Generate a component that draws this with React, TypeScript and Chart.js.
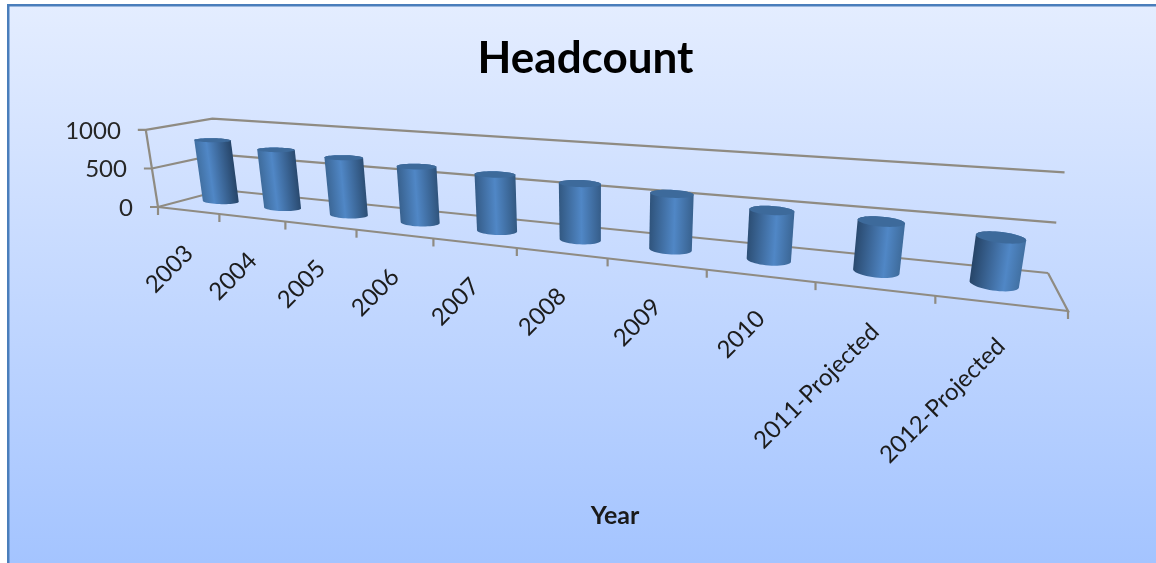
import React, { useEffect, useRef } from "react";
import { Chart, registerables } from "chart.js";

Chart.register(...registerables);

const categories = ["2003", "2004", "2005", "2006", "2007", "2008", "2009", "2010", "2011-Projected", "2012-Projected"];
const headcount = [810, 745, 710, 670, 650, 625, 595, 510, 495, 445];

type P = [number, number];
// floor corners of the 3-D box: front-left, front-right, back-right, back-left
const FLOOR: P[] = [[158, 207], [1068, 311], [1048, 273], [222, 190]];
const VANISH: P = [600, 3000]; // where the verticals meet, far below the chart
const WALL_HEIGHT = 78;
const FONT = "Lato, Carlito, 'Open Sans', sans-serif";
const GRID = "#8f8b82";

function homography(q: P[]) {
  const [[x0, y0], [x1, y1], [x2, y2], [x3, y3]] = q;
  const dx1 = x1 - x2, dx2 = x3 - x2, sx = x0 - x1 + x2 - x3;
  const dy1 = y1 - y2, dy2 = y3 - y2, sy = y0 - y1 + y2 - y3;
  const den = dx1 * dy2 - dx2 * dy1;
  const g = (sx * dy2 - dx2 * sy) / den;
  const h = (dx1 * sy - sx * dy1) / den;
  const a = x1 - x0 + g * x1, b = x3 - x0 + h * x3;
  const d = y1 - y0 + g * y1, e = y3 - y0 + h * y3;
  return (u: number, w: number): [number, number, number] => {
    const k = g * u + h * w + 1;
    return [(a * u + b * w + x0) / k, (d * u + e * w + y0) / k, k];
  };
}
const floorAt = homography(FLOOR);
// u along the categories, d depth (0 front, 1 back), v height 0..1
function project(u: number, d: number, v: number): P {
  const [x, y, k] = floorAt(u, d);
  const dx = x - VANISH[0], dy = y - VANISH[1], len = Math.hypot(dx, dy);
  const h = WALL_HEIGHT * Math.pow(k, -0.91) * v;
  return [x + (dx / len) * h, y + (dy / len) * h];
}

function hull(pts: P[]): P[] {
  const s = [...pts].sort((a, b) => a[0] - b[0] || a[1] - b[1]);
  const cross = (o: P, a: P, b: P) => (a[0] - o[0]) * (b[1] - o[1]) - (a[1] - o[1]) * (b[0] - o[0]);
  const lo: P[] = [], up: P[] = [];
  for (const p of s) {
    while (lo.length > 1 && cross(lo[lo.length - 2], lo[lo.length - 1], p) <= 0) lo.pop();
    lo.push(p);
  }
  for (const p of s.reverse()) {
    while (up.length > 1 && cross(up[up.length - 2], up[up.length - 1], p) <= 0) up.pop();
    up.push(p);
  }
  return lo.slice(0, -1).concat(up.slice(0, -1));
}
function poly(ctx: CanvasRenderingContext2D, pts: P[]) {
  ctx.beginPath();
  pts.forEach((p, i) => (i ? ctx.lineTo(p[0], p[1]) : ctx.moveTo(p[0], p[1])));
  ctx.closePath();
}
function line(ctx: CanvasRenderingContext2D, pts: P[]) {
  ctx.beginPath();
  pts.forEach((p, i) => (i ? ctx.lineTo(p[0], p[1]) : ctx.moveTo(p[0], p[1])));
  ctx.stroke();
}
function mix(a: number[], b: number[], t: number) {
  const c = a.map((v, i) => Math.round(v + (b[i] - v) * t));
  return `rgb(${c[0]},${c[1]},${c[2]})`;
}

const backdrop = {
  id: "backdrop",
  beforeDraw(chart: any) {
    const { ctx, width, height } = chart;
    const g = ctx.createLinearGradient(0, 4, 0, height);
    g.addColorStop(0, "#e4edff");
    g.addColorStop(1, "#a4c4ff");
    ctx.save();
    ctx.fillStyle = "#4a7ebb";
    ctx.fillRect(7, 4, width - 7, height - 4);
    ctx.fillStyle = g;
    ctx.fillRect(9.5, 6.5, width - 9.5, height - 6.5);
    ctx.restore();
  },
};

const box3d = {
  id: "box3d",
  afterDatasetsDraw(chart: any) {
    const { ctx } = chart;
    const xs = chart.scales.x, ys = chart.scales.y;
    const frac = (v: number) => (ys.bottom - ys.getPixelForValue(v)) / (ys.bottom - ys.top);
    ctx.save();
    ctx.strokeStyle = GRID;
    ctx.lineWidth = 2.2;
    ctx.lineJoin = "miter";

    // walls, gridlines and value ticks
    ctx.fillStyle = "#262626";
    ctx.font = `24px ${FONT}`;
    ctx.textBaseline = "middle";
    ctx.textAlign = "right";
    for (const t of ys.ticks) {
      const v = frac(t.value);
      const a = project(0, 0, v), b = project(0, 1, v), c = project(1, 1, v);
      line(ctx, [[a[0] - 8, a[1]], a, b, c]);
      ctx.fillText(String(t.value), a[0] - 25, a[1] + 1);
    }
    line(ctx, [project(0, 0, 0), project(0, 0, 1)]);
    line(ctx, [project(0, 0, 0), project(1, 0, 0), project(1, 1, 0)]);

    // category ticks
    const n = categories.length;
    for (let i = 0; i <= n; i++) {
      const p = project(i / n, 0, 0);
      line(ctx, [p, [p[0], p[1] + 8]]);
    }

    // cylinders
    headcount.forEach((val, i) => {
      const u = (xs.getPixelForValue(i) - xs.left) / xs.width;
      const v = frac(val);
      const ru = 0.027 + (0.0195 - 0.027) * u;
      const rd = 0.13 + 0.06 * u;
      const base: P[] = [], top: P[] = [];
      for (let k = 0; k < 48; k++) {
        const a = (k / 48) * Math.PI * 2;
        const pu = u + ru * Math.cos(a), pd = 0.5 + rd * Math.sin(a);
        base.push(project(pu, pd, 0));
        top.push(project(pu, pd, v));
      }
      const bc = project(u, 0.5, 0), tc = project(u, 0.5, v);
      const ax = tc[0] - bc[0], ay = tc[1] - bc[1], len = Math.hypot(ax, ay);
      // unit vector across the cylinder, pointing to the right
      const nx = -ay / len, ny = ax / len;
      const all = base.concat(top);
      const proj = all.map((p) => (p[0] - bc[0]) * nx + (p[1] - bc[1]) * ny);
      const lo = Math.min(...proj), hi = Math.max(...proj);
      const g = ctx.createLinearGradient(bc[0] + nx * lo, bc[1] + ny * lo, bc[0] + nx * hi, bc[1] + ny * hi);
      const dark = [37, 66, 100], soft = [66, 114, 165], lit = [80, 135, 198];
      g.addColorStop(0, mix(soft, dark, u));
      g.addColorStop(0.3 + 0.42 * u, `rgb(${lit.join(",")})`);
      g.addColorStop(1, mix(dark, soft, u));
      poly(ctx, hull(all));
      ctx.fillStyle = g;
      ctx.fill();
      poly(ctx, top);
      ctx.fillStyle = "#3d6a9b";
      ctx.fill();
    });

    // category labels
    ctx.fillStyle = "#1c1c1c";
    ctx.font = `24px ${FONT}`;
    ctx.textAlign = "right";
    ctx.textBaseline = "middle";
    categories.forEach((label, i) => {
      const u = (xs.getPixelForValue(i) - xs.left) / xs.width;
      const p = project(u, 0, 0);
      ctx.save();
      ctx.translate(p[0] + 1, p[1] + 39);
      ctx.rotate(-Math.PI / 4);
      ctx.fillText(label, 0, 0);
      ctx.restore();
    });
    ctx.restore();
  },
};

export default function App() {
  const ref = useRef<HTMLCanvasElement>(null);
  useEffect(() => {
    const chart = new Chart(ref.current!, {
      type: "bar",
      data: {
        labels: categories,
        datasets: [{ label: "Headcount", data: headcount, backgroundColor: "rgba(0,0,0,0)", borderWidth: 0 }],
      },
      options: {
        animation: false,
        responsive: false,
        devicePixelRatio: 1,
        layout: { padding: { left: 15, right: 0, top: 32, bottom: 32 } },
        plugins: {
          legend: { display: false },
          tooltip: { enabled: false },
          title: {
            display: true,
            text: "Headcount",
            color: "#000000",
            font: { family: FONT, size: 44, weight: "bold" },
            padding: 0,
          },
        },
        scales: {
          x: {
            grid: { display: false },
            border: { display: false },
            ticks: { display: false },
            title: {
              display: true,
              text: "Year",
              color: "#1a1a1a",
              font: { family: FONT, size: 25, weight: "bold" },
              padding: 0,
            },
          },
          y: {
            min: 0,
            max: 1000,
            grid: { display: false },
            border: { display: false },
            ticks: { display: false, stepSize: 500 },
            afterFit(s: any) {
              s.width = 59;
            },
          },
        },
      },
      plugins: [backdrop, box3d],
    } as any);
    return () => chart.destroy();
  }, []);
  return (
    <div style={{ position: "fixed", left: 0, top: 0, width: 1156, height: 563 }}>
      <canvas ref={ref} width={1156} height={563} style={{ display: "block" }} />
    </div>
  );
}
